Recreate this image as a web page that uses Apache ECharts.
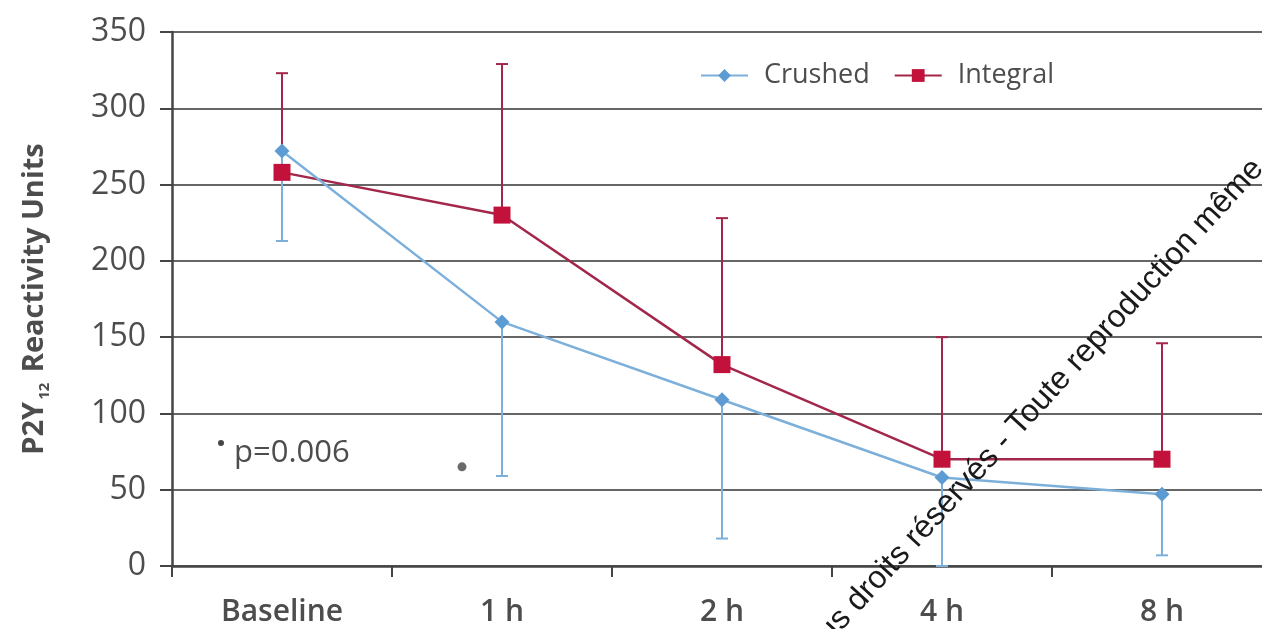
<!DOCTYPE html>
<html>
<head>
<meta charset="utf-8">
<title>P2Y12 Reactivity Units</title>
<script src="https://cdn.jsdelivr.net/npm/echarts@6/dist/echarts.min.js"></script>
<style>
  html, body { margin: 0; padding: 0; background: #ffffff; }
  #chart { width: 1262px; height: 629px; }
</style>
</head>
<body>
<div id="chart"></div>
<script>
// Time points
const categories = ['Baseline', '1 h', '2 h', '4 h', '8 h'];

// Crushed tablets: mean and lower error bound
const crushedMean  = [272, 160, 109, 58, 47];
const crushedLower = [213, 59, 18, 0, 7];

// Integral tablets: mean and upper error bound
const integralMean  = [258, 230, 132, 70, 70];
const integralUpper = [323, 329, 228, 150, 146];

// Significant difference marker (time point, height)
const sigCategory = '1 h';
const sigValue = 65;

// Y axis range
const yMin = 0, yMax = 350, yStep = 50;

const BLUE_LINE = '#7cb0db';
const BLUE_MARK = '#5d9cd3';
const RED_LINE = '#a3274b';
const RED_MARK = '#c2113b';
const TEXT = '#4d4d4d';
const FONT = '"Open Sans", "Noto Sans", sans-serif';

function errorBarRenderer(color) {
  return function (params, api) {
    const idx = api.value(0);
    const p1 = api.coord([idx, api.value(1)]);
    const p2 = api.coord([idx, api.value(2)]);
    const half = 6;
    return {
      type: 'group',
      children: [
        { type: 'line', shape: { x1: p1[0], y1: p1[1], x2: p2[0], y2: p2[1] },
          style: { stroke: color, lineWidth: 2 } },
        { type: 'line', shape: { x1: p2[0] - half, y1: p2[1], x2: p2[0] + half, y2: p2[1] },
          style: { stroke: color, lineWidth: 2 } }
      ]
    };
  };
}

const chart = echarts.init(document.getElementById('chart'), null, { renderer: 'canvas' });

chart.setOption({
  animation: false,
  backgroundColor: '#ffffff',
  grid: { left: 172, width: 1100, top: 32, bottom: 63, containLabel: false, outerBoundsMode: 'none' },
  legend: {
    data: ['Crushed', 'Integral'],
    left: 695, top: 57,
    itemWidth: 47, itemHeight: 16, itemGap: 24,
    textStyle: { color: TEXT, fontSize: 27, fontFamily: FONT, padding: [0, 0, 0, 11] }
  },
  xAxis: {
    type: 'category',
    data: categories,
    boundaryGap: true,
    axisLine: { lineStyle: { color: '#454545', width: 2.5 } },
    axisTick: { show: true, length: 11, lineStyle: { color: '#454545', width: 2 } },
    axisLabel: { color: TEXT, fontSize: 30, fontWeight: 600, fontFamily: FONT, margin: 31 },
    splitLine: { show: false }
  },
  yAxis: {
    type: 'value',
    min: yMin, max: yMax, interval: yStep,
    name: '{a|P2Y}{b|12}{a| Reactivity Units}',
    nameLocation: 'middle',
    nameGap: 120,
    nameRotate: 90,
    nameTextStyle: {
      rich: {
        a: { fontSize: 29, fontWeight: 'bold', color: TEXT, fontFamily: FONT, lineHeight: 34 },
        b: { fontSize: 15, fontWeight: 'bold', color: TEXT, fontFamily: FONT, lineHeight: 16,
             verticalAlign: 'bottom', padding: [0, 3, 0, 2] }
      }
    },
    axisLine: { show: true, lineStyle: { color: '#454545', width: 2.5 } },
    axisTick: { show: true, length: 12, lineStyle: { color: '#454545', width: 2 } },
    axisLabel: { color: TEXT, fontSize: 32, fontFamily: FONT, margin: 26 },
    splitLine: { show: true, lineStyle: { color: '#666666', width: 2 } }
  },
  series: [
    {
      name: 'Integral error',
      type: 'custom',
      renderItem: errorBarRenderer(RED_LINE),
      data: integralMean.map((v, i) => [i, v, integralUpper[i]]),
      encode: { x: 0, y: [1, 2] },
      z: 2,
      silent: true
    },
    {
      name: 'Crushed error',
      type: 'custom',
      renderItem: errorBarRenderer(BLUE_LINE),
      data: crushedMean.map((v, i) => [i, v, crushedLower[i]]),
      encode: { x: 0, y: [1, 2] },
      z: 2,
      silent: true
    },
    {
      name: 'Integral',
      type: 'line',
      data: integralMean,
      symbol: 'rect',
      symbolSize: 17,
      itemStyle: { color: RED_MARK },
      lineStyle: { color: RED_LINE, width: 2.5 },
      z: 3
    },
    {
      name: 'Crushed',
      type: 'line',
      data: crushedMean,
      symbol: 'diamond',
      symbolSize: 15,
      itemStyle: { color: BLUE_MARK },
      lineStyle: { color: BLUE_LINE, width: 2.5 },
      z: 4
    },
    {
      name: 'Significance',
      type: 'scatter',
      data: [[sigCategory, sigValue]],
      symbol: 'circle',
      symbolSize: 9,
      symbolOffset: [-40, 0],
      itemStyle: { color: '#454545' },
      silent: true,
      z: 5
    }
  ],
  graphic: [
    { type: 'circle', shape: { cx: 221, cy: 443, r: 3 }, style: { fill: '#454545' }, z: 10 },
    { type: 'text', x: 234, y: 453,
      style: { text: 'p=0.006', fontSize: 31, fontFamily: FONT, fill: TEXT,
               align: 'left', verticalAlign: 'middle' }, z: 10 },
    { type: 'text', x: 812, y: 674, rotation: 47.5 * Math.PI / 180,
      style: { text: 'Tous droits réservés - Toute reproduction même',
               fontSize: 32, fontFamily: '"Liberation Sans", Arial, sans-serif', fill: '#1a1a1a',
               align: 'left', verticalAlign: 'bottom' }, z: 20 }
  ]
});
</script>
</body>
</html>
